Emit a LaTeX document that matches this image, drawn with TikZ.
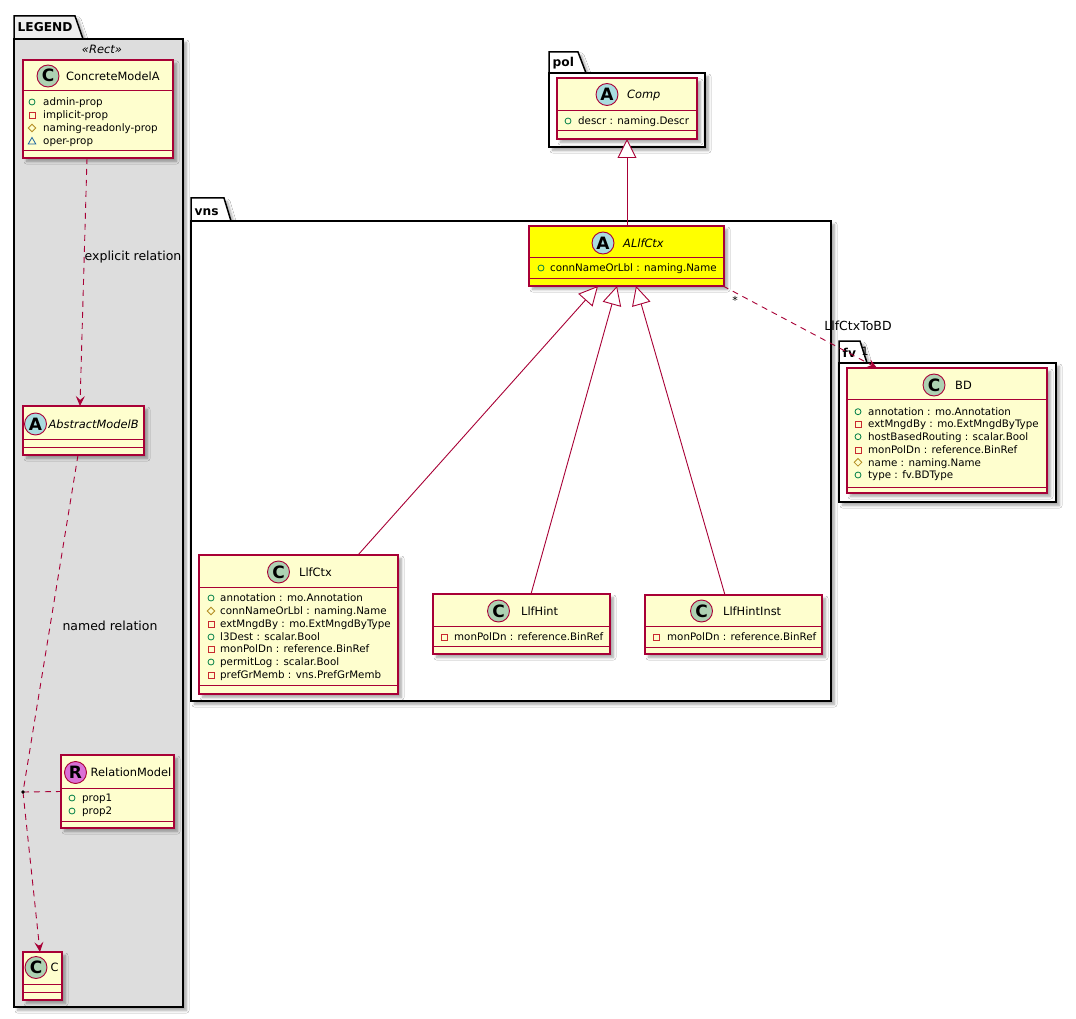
\documentclass[tikz,border=0pt]{standalone}
\usepackage{fontspec}
\setmainfont{DejaVu Sans}
\usetikzlibrary{arrows.meta,shadows.blur,calc}
\definecolor{umlred}{HTML}{A80036}
\definecolor{umlfill}{HTML}{FEFECE}
\definecolor{spotC}{HTML}{ADD1B2}
\definecolor{spotA}{HTML}{A9DCDF}
\definecolor{spotR}{HTML}{DA70D6}
\definecolor{legendgray}{HTML}{DDDDDD}
\definecolor{tabgray}{HTML}{EEEEEE}
\definecolor{hilite}{HTML}{FFFF00}
\definecolor{pubgreen}{HTML}{038048}
\definecolor{privred}{HTML}{C82930}
\definecolor{protyellow}{HTML}{B38D22}
\definecolor{pkgblue}{HTML}{1963A0}
\tikzset{
  shadowed/.style={blur shadow={shadow xshift=3.5pt, shadow yshift=-3.5pt, shadow blur steps=6, shadow blur radius=2.5pt, shadow opacity=35}},
  classbox/.style={draw=umlred, line width=1.1pt, inner sep=0pt, outer sep=0pt, shadowed},
  classline/.style={draw=umlred, line width=1pt},
  pkgline/.style={draw=black, line width=1.5pt},
  pkgtitle/.style={inner sep=0pt, font=\fontsize{12.2}{14}\bfseries\selectfont},
  spotc/.style={circle, draw=umlred, line width=0.9pt, minimum size=22pt, inner sep=0pt, text height=12pt, text depth=0pt, font=\fontsize{17}{19}\bfseries\selectfont},
  cname/.style={anchor=west, inner sep=0pt, text height=8.2pt, text depth=0pt, font=\fontsize{11.4}{13}\selectfont},
  attr/.style={anchor=west, inner sep=0pt, text height=7.5pt, text depth=0pt, font=\fontsize{10.3}{12}\selectfont},
  elabel/.style={inner sep=0pt, font=\fontsize{12.5}{14}\selectfont},
  pubc/.style={draw=pubgreen, line width=0.8pt},
  privc/.style={draw=privred, line width=0.8pt},
  protc/.style={draw=protyellow, line width=0.8pt},
  pkgc/.style={draw=pkgblue, line width=0.8pt},
  dep/.style={draw=umlred, line width=0.9pt, dash pattern=on 6pt off 5pt, -{Stealth[length=10pt, width=9pt, inset=4pt, fill=umlred]}},
  deplain/.style={draw=umlred, line width=0.9pt, dash pattern=on 6pt off 5pt},
  inh/.style={draw=umlred, line width=0.9pt, -{Triangle[open, length=19pt, width=19pt, fill=white]}},
}
\newcommand\umlbox[8]{%
  \pgfmathsetmacro\bw{#4-#2}%
  \pgfmathsetmacro\bh{#5-#3}%
  \node[classbox, fill=#8, minimum width=\bw pt, minimum height=\bh pt, anchor=north west] (#1) at (#2,#3) {};
  \draw[classline] (#2,#6) -- (#4,#6);
  \draw[classline] (#2,#7) -- (#4,#7);
}
\newcommand\ipub[2]{\draw[pubc] (#1,#2) circle (3pt);}
\newcommand\ipriv[2]{\draw[privc] (#1,#2) ++(-3,-3) rectangle ++(6,6);}
\newcommand\iprot[2]{\draw[protc] (#1,#2) ++(0,-3.8) -- ++(3.8,3.8) -- ++(-3.8,3.8) -- ++(-3.8,-3.8) -- cycle;}
\newcommand\ipkg[2]{\draw[pkgc] (#1,#2) ++(0,-3.5) -- ++(3.8,6.5) -- ++(-7.6,0) -- cycle;}
\begin{document}
\begin{tikzpicture}[x=1pt,y=-1pt]
\useasboundingbox[fill=white] (0,0) rectangle (1076,1019);

% ---------- packages ----------
% LEGEND
\filldraw[pkgline, fill=tabgray, shadowed] (14,16) -- (75,16) -- (83,39) -- (14,39) -- cycle;
\filldraw[pkgline, fill=legendgray, shadowed] (14,39) rectangle (183,1007);
\node[pkgtitle, anchor=base west] (tlegend) at (17.5,32) {LEGEND};
\node[inner sep=0pt, font=\fontsize{11.5}{13}\itshape\selectfont] (tstereo) at (102,49) {«Rect»};
% pol
\filldraw[pkgline, fill=white, shadowed] (549,52) -- (578,52) -- (586,73) -- (549,73) -- cycle;
\filldraw[pkgline, fill=white, shadowed] (549,73) rectangle (705,147);
\node[pkgtitle, anchor=base west] (tpol) at (552.5,67) {pol};
% vns
\filldraw[pkgline, fill=white, shadowed] (191,198) -- (224,198) -- (231,221) -- (191,221) -- cycle;
\filldraw[pkgline, fill=white, shadowed] (191,221) rectangle (831,701);
\node[pkgtitle, anchor=base west] (tvns) at (194.5,215) {vns};
% fv
\filldraw[pkgline, fill=white, shadowed] (839,341) -- (860,341) -- (867,363) -- (839,363) -- cycle;
\filldraw[pkgline, fill=white, shadowed] (839,363) rectangle (1056,502);
\node[pkgtitle, anchor=base west] (tfv) at (842.5,357.5) {fv};

% ---------- LEGEND classes ----------
\umlbox{cma}{23}{60}{173}{158}{91}{151}{umlfill}
\node[spotc, fill=spotC] (scma) at (48,76) {C};
\node[cname] (ncma) at (66,76) {ConcreteModelA};
\ipub{32}{102}\node[attr] (a1) at (43,102) {admin-prop};
\ipriv{32}{115}\node[attr] (a2) at (43,115) {implicit-prop};
\iprot{32}{128}\node[attr] (a3) at (43,128) {naming-readonly-prop};
\ipkg{32}{141}\node[attr] (a4) at (43,141) {oper-prop};

\umlbox{amb}{23}{406}{144}{455}{439}{447}{umlfill}
\node[spotc, fill=spotA] (samb) at (35.5,424) {A};
\node[cname, font=\fontsize{11.4}{13}\itshape\selectfont] (namb) at (48.5,424) {AbstractModelB};

\umlbox{rm}{61}{755}{174}{828}{788}{821}{umlfill}
\node[spotc, fill=spotR] (srm) at (75.5,772.5) {R};
\node[cname] (nrm) at (90.5,772.5) {RelationModel};
\ipub{72}{798}\node[attr] (r1) at (82,798) {prop1};
\ipub{72}{811}\node[attr] (r2) at (82,811) {prop2};

\umlbox{cc}{23}{952}{62}{1000}{984}{992}{umlfill}
\node[spotc, fill=spotC] (scc) at (36,967.5) {C};
\node[cname] (ncc) at (50.5,967.5) {C};

% ---------- pol ----------
\umlbox{comp}{557}{78}{697}{139}{111}{131}{umlfill}
\node[spotc, fill=spotA] (scomp) at (607,94.5) {A};
\node[cname, font=\fontsize{11.4}{13}\itshape\selectfont] (ncomp) at (627,94.5) {Comp};
\ipub{568}{121}\node[attr] (c1) at (578,121) {descr : naming.Descr};

% ---------- vns ----------
\umlbox{alc}{529}{226}{724}{286}{257}{278}{hilite}
\node[spotc, fill=spotA] (salc) at (603,243) {A};
\node[cname, font=\fontsize{11.4}{13}\itshape\selectfont] (nalc) at (623,243) {ALlfCtx};
\ipub{541}{268}\node[attr] (al1) at (550,268) {connNameOrLbl : naming.Name};

\umlbox{lc}{199}{555}{398}{694}{587}{685}{umlfill}
\node[spotc, fill=spotC] (slc) at (278.5,572) {C};
\node[cname] (nlc) at (299,572) {LlfCtx};
\ipub{211}{598}\node[attr] (l1) at (220,598) {annotation : mo.Annotation};
\iprot{211}{611}\node[attr] (l2) at (220,611) {connNameOrLbl : naming.Name};
\ipriv{211}{624}\node[attr] (l3) at (220,624) {extMngdBy : mo.ExtMngdByType};
\ipub{211}{637}\node[attr] (l4) at (220,637) {l3Dest : scalar.Bool};
\ipriv{211}{649}\node[attr] (l5) at (220,649) {monPolDn : reference.BinRef};
\ipub{211}{662}\node[attr] (l6) at (220,662) {permitLog : scalar.Bool};
\ipriv{211}{675}\node[attr] (l7) at (220,675) {prefGrMemb : vns.PrefGrMemb};

\umlbox{lh}{433}{594}{610}{654}{626}{646}{umlfill}
\node[spotc, fill=spotC] (slh) at (498.5,611) {C};
\node[cname] (nlh) at (521,611) {LlfHint};
\ipriv{444}{637}\node[attr] (h1) at (454,637) {monPolDn : reference.BinRef};

\umlbox{lhi}{645}{595}{822}{654}{626}{647}{umlfill}
\node[spotc, fill=spotC] (slhi) at (701.5,611) {C};
\node[cname] (nlhi) at (723,611) {LlfHintInst};
\ipriv{656}{637}\node[attr] (hi1) at (667,637) {monPolDn : reference.BinRef};

% ---------- fv ----------
\umlbox{bd}{847}{368}{1047}{493}{399}{487}{umlfill}
\node[spotc, fill=spotC] (sbd) at (934,385) {C};
\node[cname] (nbd) at (955,385) {BD};
\ipub{858}{411.7}\node[attr] (b1) at (868,411.7) {annotation : mo.Annotation};
\ipriv{858}{424}\node[attr] (b2) at (868,424) {extMngdBy : mo.ExtMngdByType};
\ipub{858}{436.7}\node[attr] (b3) at (868,436.7) {hostBasedRouting : scalar.Bool};
\ipriv{858}{450}\node[attr] (b4) at (868,450) {monPolDn : reference.BinRef};
\iprot{858}{462.3}\node[attr] (b5) at (868,462.3) {name : naming.Name};
\ipub{858}{475}\node[attr] (b6) at (868,475) {type : fv.BDType};

% ---------- connectors ----------
\draw[dep] ($(cma.south west)+(64,0)$) -- ($(amb.north west)+(57,0)$);
\node[elabel] (lexp) at (133,257) {explicit relation};

\coordinate (dot) at (23,792);
\draw[deplain] ($(amb.south west)+(55,0)$) -- (dot);
\draw[dep] (dot) -- ($(cc.north west)+(17,0)$);
\draw[deplain] (dot) -- (rm.west);
\fill (dot) circle (1.8pt);
\node[elabel] (lnamed) at (110,626) {named relation};

\draw[inh] ($(alc.north west)+(98,0)$) -- ($(comp.south west)+(70,0)$);
\draw[inh] ($(lc.north west)+(159,0)$) -- ($(alc.south west)+(69,0)$);
\draw[inh] ($(lh.north west)+(98,0)$) -- ($(alc.south west)+(88,0)$);
\draw[inh] ($(lhi.north west)+(80,0)$) -- ($(alc.south west)+(107,0)$);

\draw[dep] ($(alc.south east)+(-1,0)$) -- ($(bd.north west)+(30,0)$);
\node[inner sep=0pt, font=\fontsize{11}{13}\selectfont] (lstar) at (735,300) {*};
\node[elabel] (lname) at (858,326) {LlfCtxToBD};
\node[inner sep=0pt, font=\fontsize{11.5}{13}\selectfont] (lone) at (865,351) {1};
\end{tikzpicture}
\end{document}
